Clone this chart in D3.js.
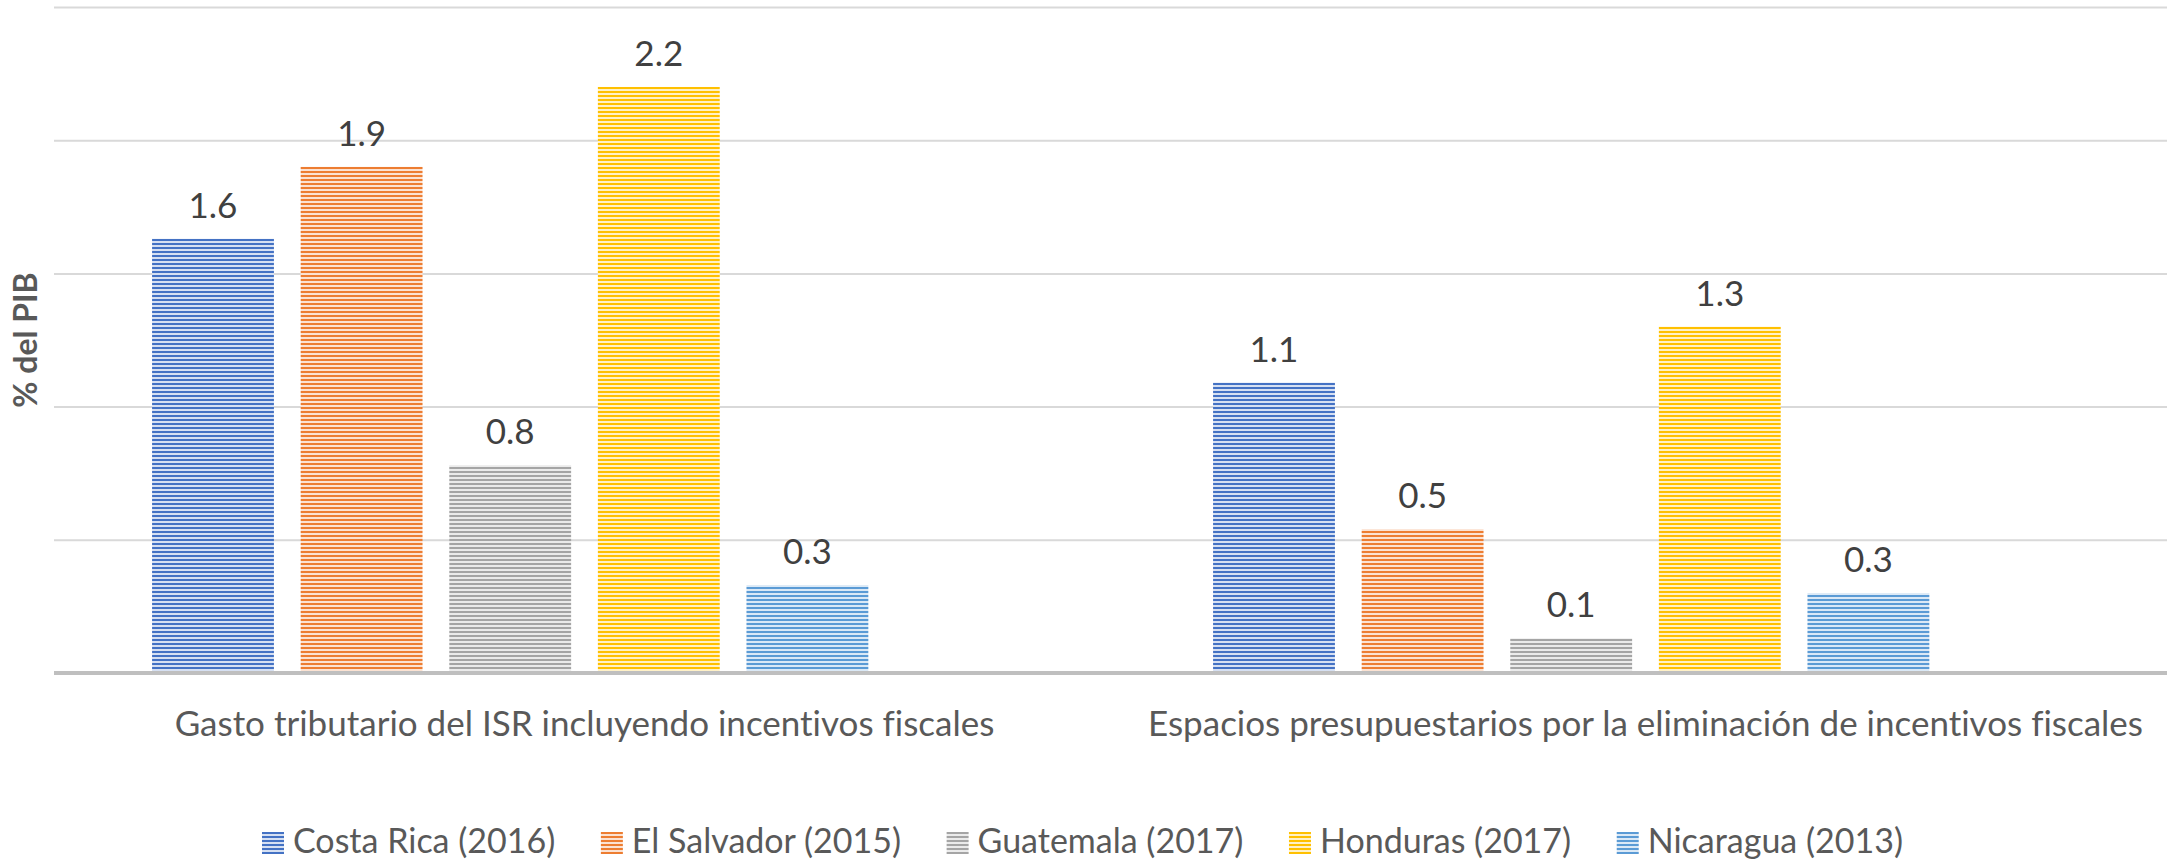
<!DOCTYPE html>
<html>
<head>
<meta charset="utf-8">
<script src="https://cdn.jsdelivr.net/npm/d3@7"></script>
<style>
  body { margin: 0; background: #fff; }
  text { font-family: Lato, "Open Sans", sans-serif; font-variant-ligatures: none; }
</style>
</head>
<body>
<div id="chart-area"></div>
<script>
// categories on the x axis
const categories = [
  'Gasto tributario del ISR incluyendo incentivos fiscales',
  'Espacios presupuestarios por la eliminación de incentivos fiscales'
];

// one series per country
const seriesNames = ['Costa Rica (2016)', 'El Salvador (2015)', 'Guatemala (2017)', 'Honduras (2017)', 'Nicaragua (2013)'];
const costaRica = [1.63, 1.09];
const elSalvador = [1.90, 0.54];
const guatemala = [0.78, 0.13];
const honduras = [2.20, 1.30];
const nicaragua = [0.33, 0.30];
const seriesColors = ['#4472C4', '#ED7D31', '#A5A5A5', '#FFC000', '#5B9BD5'];

const yTicks = [0, 0.5, 1, 1.5, 2, 2.5];

const seriesValues = [costaRica, elSalvador, guatemala, honduras, nicaragua];

const W = 2167, H = 861;
const margins = { top: 7, right: -9, bottom: 188, left: 54 };
const width = W - margins.left - margins.right;
const height = H - margins.top - margins.bottom;

const svg = d3.select('#chart-area')
  .append('svg')
  .attr('width', W)
  .attr('height', H);

// striped fills, like the excel pattern fill
const defs = svg.append('defs');
seriesColors.forEach((c, i) => {
  const p = defs.append('pattern')
    .attr('id', 'stripe' + i)
    .attr('patternUnits', 'userSpaceOnUse')
    .attr('width', 8)
    .attr('height', 4);
  p.append('rect').attr('width', 8).attr('height', 4)
    .attr('fill', d3.interpolateRgb(c, '#fff')(0.78));
  p.append('rect').attr('width', 8).attr('height', 2).attr('fill', c);
});

const g = svg.append('g')
  .attr('transform', 'translate(' + margins.left + ', ' + margins.top + ')');

const x0 = d3.scaleBand()
  .domain(categories)
  .range([0, width]);

// sixth slot stays empty, as in the original chart
const x1 = d3.scaleBand()
  .domain(seriesNames.concat(['']))
  .range([0, x0.bandwidth()])
  .paddingInner(0.18)
  .paddingOuter(0.66);

const y = d3.scaleLinear()
  .domain([0, 2.5])
  .range([height, 0]);

// gridlines
g.append('g')
  .call(d3.axisLeft(y).tickValues(yTicks).tickSize(-width).tickFormat(''))
  .call(ax => ax.select('.domain').remove())
  .call(ax => ax.selectAll('line').attr('stroke', '#d9d9d9').attr('stroke-width', 2)
    .filter(d => d === 0).remove());

const groups = g.selectAll('.cat')
  .data(categories)
  .enter()
  .append('g')
  .attr('transform', (c) => 'translate(' + x0(c) + ',0)');

groups.each(function (c, ci) {
  const grp = d3.select(this);
  const rows = seriesNames.map((s, si) => ({ s: s, si: si, v: seriesValues[si][ci] }));

  grp.selectAll('rect')
    .data(rows)
    .enter()
    .append('rect')
    .attr('x', (d) => x1(d.s))
    .attr('y', (d) => y(d.v))
    .attr('width', x1.bandwidth())
    .attr('height', (d) => height - y(d.v))
    .attr('fill', (d) => 'url(#stripe' + d.si + ')');

  grp.selectAll('.lbl')
    .data(rows)
    .enter()
    .append('text')
    .attr('class', 'lbl')
    .attr('x', (d) => x1(d.s) + x1.bandwidth() / 2)
    .attr('y', (d) => y(d.v) - 21)
    .attr('text-anchor', 'middle')
    .attr('font-size', 35)
    .attr('fill', '#404040')
    .text((d) => d3.format('.1f')(d.v));
});

// baseline
g.append('line')
  .attr('x1', 0).attr('x2', width)
  .attr('y1', y(0)).attr('y2', y(0))
  .attr('stroke', '#bfbfbf')
  .attr('stroke-width', 4);

// category labels
const xAxis = g.append('g')
  .attr('transform', 'translate(0,' + height + ')')
  .call(d3.axisBottom(x0).tickSize(0).tickPadding(38));
xAxis.select('.domain').remove();
xAxis.selectAll('text')
  .attr('font-family', 'Lato, sans-serif')
  .attr('font-size', 35)
  .attr('fill', '#595959');

// y title
svg.append('text')
  .attr('transform', 'translate(37,' + (margins.top + height / 2) + ') rotate(-90)')
  .attr('text-anchor', 'middle')
  .attr('font-size', 32)
  .attr('font-weight', 'bold')
  .attr('fill', '#595959')
  .text('% del PIB');

// legend
const legend = svg.append('g');
const items = legend.selectAll('g')
  .data(seriesNames)
  .enter()
  .append('g');
items.append('rect')
  .attr('y', 832)
  .attr('width', 22)
  .attr('height', 22)
  .attr('fill', (d, i) => 'url(#stripe' + i + ')');
items.append('text')
  .attr('x', 31)
  .attr('y', 853)
  .attr('font-size', 34)
  .attr('fill', '#595959')
  .text((d) => d);

// spread the items over the same span as the original legend
const legendLeft = 262, legendRight = 1903;
const itemWidths = [];
items.each(function () {
  itemWidths.push(31 + d3.select(this).select('text').node().getComputedTextLength());
});
const itemGap = (legendRight - legendLeft - d3.sum(itemWidths)) / (itemWidths.length - 1);
let xpos = legendLeft;
items.each(function (d, i) {
  d3.select(this).attr('transform', 'translate(' + xpos + ',0)');
  xpos += itemWidths[i] + itemGap;
});
</script>
</body>
</html>
